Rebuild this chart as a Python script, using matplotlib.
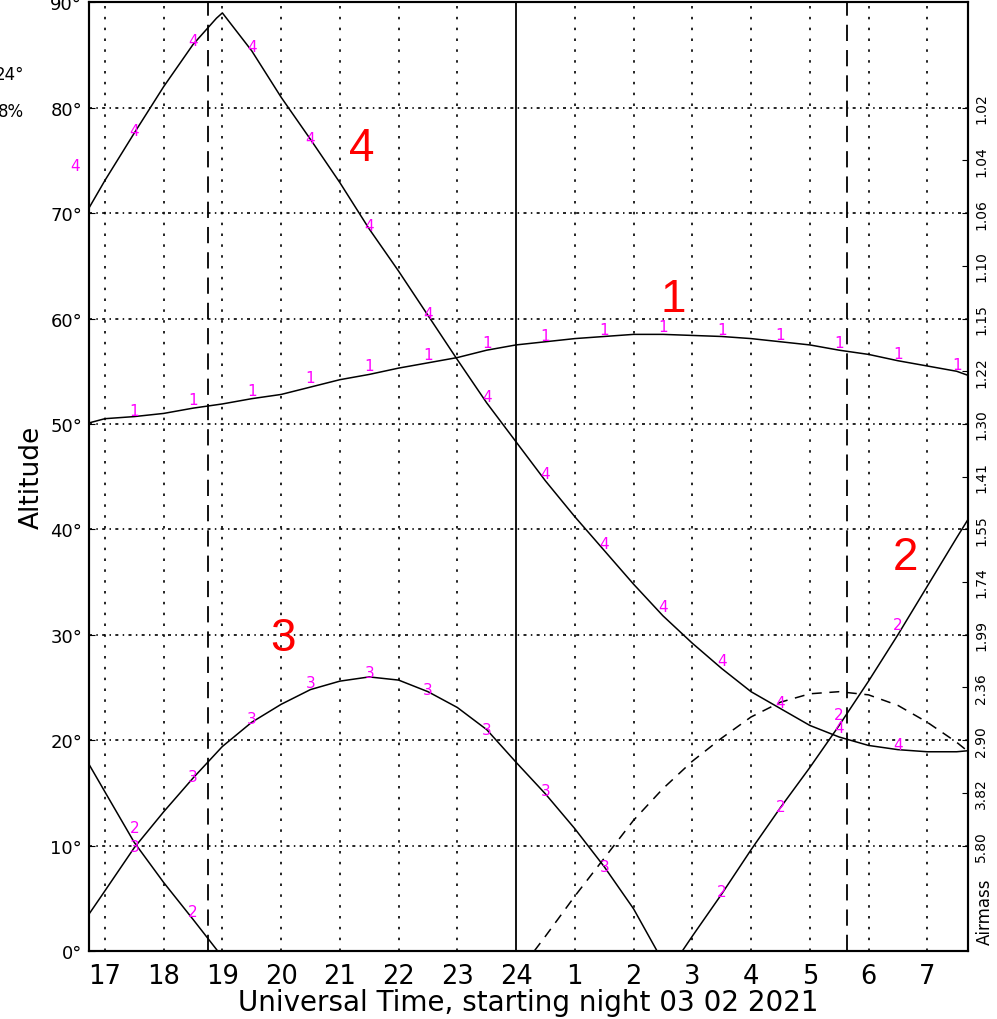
import numpy as np
import matplotlib.pyplot as plt

# object altitude tracks (UT hours, after midnight counted as 24+)
t1 = [16.73, 17.0, 17.5, 18.0, 18.5, 19.0, 19.5, 20.0, 20.5, 21.0, 21.5, 22.0, 22.5, 23.0, 23.5, 24.0,
      24.5, 25.0, 25.5, 26.0, 26.5, 27.0, 27.5, 28.0, 28.5, 29.0, 29.5, 30.0, 30.5, 31.0, 31.5, 31.7]
alt1 = [50.1, 50.5, 50.7, 51.0, 51.5, 51.9, 52.4, 52.8, 53.5, 54.2, 54.7, 55.3, 55.8, 56.3, 57.0, 57.5,
        57.8, 58.1, 58.3, 58.5, 58.5, 58.4, 58.3, 58.1, 57.8, 57.5, 57.0, 56.6, 56.0, 55.5, 55.0, 54.6]

t4 = [16.73, 17.0, 17.5, 18.0, 18.5, 18.9, 19.0, 19.5, 20.0, 20.5, 21.0, 21.5, 22.0, 22.5, 23.0, 23.5, 24.0,
      24.5, 25.0, 25.5, 26.0, 26.5, 27.0, 27.5, 28.0, 28.5, 29.0, 29.5, 30.0, 30.5, 31.0, 31.5, 31.7]
alt4 = [70.5, 73.1, 77.6, 82.0, 86.0, 88.5, 89.0, 85.4, 81.0, 77.0, 72.9, 68.5, 64.5, 60.3, 56.1, 52.0, 48.3,
        44.6, 41.2, 38.0, 34.8, 31.8, 29.2, 26.8, 24.6, 23.0, 21.4, 20.3, 19.5, 19.1, 18.9, 18.9, 19.0]

t3 = [16.73, 17.0, 17.5, 18.0, 18.5, 18.75, 19.0, 19.5, 20.0, 20.5, 21.0, 21.5, 22.0, 22.5, 23.0, 23.5, 24.0,
      24.5, 25.0, 25.5, 26.0, 26.4]
alt3 = [3.5, 5.7, 9.8, 13.2, 16.4, 17.9, 19.4, 21.7, 23.4, 24.8, 25.6, 26.0, 25.7, 24.6, 23.1, 21.0, 17.9,
        14.9, 11.6, 8.0, 4.0, 0.0]

t2a = [16.73, 17.0, 17.5, 18.0, 18.5, 18.92]
alt2a = [17.7, 15.1, 10.3, 6.5, 3.0, 0.0]
t2b = [26.83, 27.0, 27.5, 28.0, 28.5, 29.0, 29.5, 30.0, 30.5, 31.0, 31.5, 31.7]
alt2b = [0.0, 1.4, 5.4, 9.6, 13.6, 17.4, 21.4, 25.6, 30.0, 34.6, 39.2, 41.0]

# moon (dashed)
tm = [24.31, 24.5, 25.0, 25.5, 26.0, 26.5, 27.0, 27.5, 28.0, 28.5, 29.0, 29.5, 30.0, 30.5, 31.0, 31.5, 31.7]
altm = [0.0, 1.4, 5.2, 8.8, 12.4, 15.4, 18.0, 20.2, 22.2, 23.6, 24.4, 24.6, 24.3, 23.3, 21.7, 19.8, 18.9]

# small magenta tags along the tracks
lab1_t = [17.5, 18.5, 19.5, 20.5, 21.5, 22.5, 23.5, 24.5, 25.5, 26.5, 27.5, 28.5, 29.5, 30.5, 31.5]
lab1_a = [51.3, 52.3, 53.2, 54.4, 55.5, 56.6, 57.7, 58.4, 59.0, 59.2, 59.0, 58.5, 57.7, 56.7, 55.6]
lab4_t = [16.5, 17.5, 18.5, 19.5, 20.5, 21.5, 22.5, 23.5, 24.5, 25.5, 26.5, 27.5, 28.5, 29.5, 30.5]
lab4_a = [74.5, 77.8, 86.4, 85.8, 77.1, 68.8, 60.5, 52.6, 45.3, 38.7, 32.7, 27.6, 23.6, 21.2, 19.6]
lab3_t = [17.5, 18.5, 19.5, 20.5, 21.5, 22.5, 23.5, 24.5, 25.5]
lab3_a = [9.9, 16.6, 22.1, 25.5, 26.4, 24.8, 21.0, 15.2, 8.0]
lab2_t = [17.5, 18.5, 27.5, 28.5, 29.5, 30.5]
lab2_a = [11.7, 3.7, 5.6, 13.7, 22.4, 31.0]

# big red names: (label, t, alt)
names = [('4', 21.37, 76.2), ('1', 26.68, 61.9), ('3', 20.04, 29.7), ('2', 30.62, 37.4)]

twilight = [18.75, 29.63]
hours = list(range(17, 32))
hour_labels = [str(h if h <= 24 else h - 24) for h in hours]
alt_ticks = list(range(0, 91, 10))
am_ticks = list(range(80, 5, -5))
am_labels = ['1.02', '1.04', '1.06', '1.10', '1.15', '1.22', '1.30', '1.41', '1.55',
             '1.74', '1.99', '2.36', '2.90', '3.82', '5.80']

fig = plt.figure(figsize=(9.97, 10.2), dpi=100)
ax = fig.add_axes([0.0893, 0.0667, 0.882, 0.930])
ax.set_xlim(16.73, 31.70)
ax.set_ylim(0, 90)

# grid
for h in hours:
    if h == 24:
        continue
    ax.axvline(h, color='black', lw=1.2, ls=(0, (1.5, 5)), zorder=1)
for a in alt_ticks[1:-1]:
    ax.axhline(a, color='black', lw=1.2, ls=(0, (1.8, 2.6, 0.9, 2.6)), zorder=1)
ax.axvline(24, color='black', lw=1.3, zorder=2)
for tw in twilight:
    ax.axvline(tw, color='black', lw=1.3, ls=(0, (9, 5)), zorder=2)

kw = dict(color='black', lw=1.1, zorder=3)
ax.plot(t1, alt1, **kw)
ax.plot(t4, alt4, **kw)
ax.plot(t3, alt3, **kw)
ax.plot(t2a, alt2a, **kw)
ax.plot(t2b, alt2b, **kw)
ax.plot(tm, altm, color='black', lw=1.1, ls=(0, (6.5, 5)), zorder=3)

for name, lt, la in [('1', lab1_t, lab1_a), ('4', lab4_t, lab4_a), ('3', lab3_t, lab3_a), ('2', lab2_t, lab2_a)]:
    for x, y in zip(lt, la):
        ax.text(x, y, name, color='#ff00ff', fontsize=11, ha='center', va='center',
                clip_on=False, zorder=4)

for s, x, y in names:
    ax.text(x, y, s, color='red', fontsize=33, family='Liberation Sans', ha='center', va='center', zorder=5)

ax.set_xticks(hours)
ax.set_xticklabels(hour_labels, fontsize=18.5)
ax.tick_params(axis='x', length=0, pad=9)
ax.set_yticks(alt_ticks)
ax.set_yticklabels([f'{a}°' for a in alt_ticks], fontsize=13)
ax.tick_params(axis='y', direction='in', length=4, pad=5)
ax.set_xlabel('Universal Time, starting night 03 02 2021', fontsize=20, labelpad=-1)
ax.set_ylabel('Altitude', fontsize=19, labelpad=4)

ax2 = ax.twinx()
ax2.set_ylim(0, 90)
ax2.set_yticks(am_ticks)
ax2.set_yticklabels(am_labels, fontsize=10, rotation=90, va='center')
ax2.tick_params(axis='y', direction='in', length=4, pad=4)
ax2.text(1.008, 3.8, 'Airmass', transform=ax2.get_yaxis_transform(), rotation=90,
         fontsize=12, ha='left', va='center')

for a in (ax, ax2):
    for sp in a.spines.values():
        sp.set_linewidth(1.5)

fig.text(24 / 997, 1 - 75 / 1020, '24°', fontsize=12, ha='right', va='center')
fig.text(24 / 997, 1 - 112 / 1020, '8%', fontsize=12, ha='right', va='center')

fig.savefig('out.png', dpi=100)
